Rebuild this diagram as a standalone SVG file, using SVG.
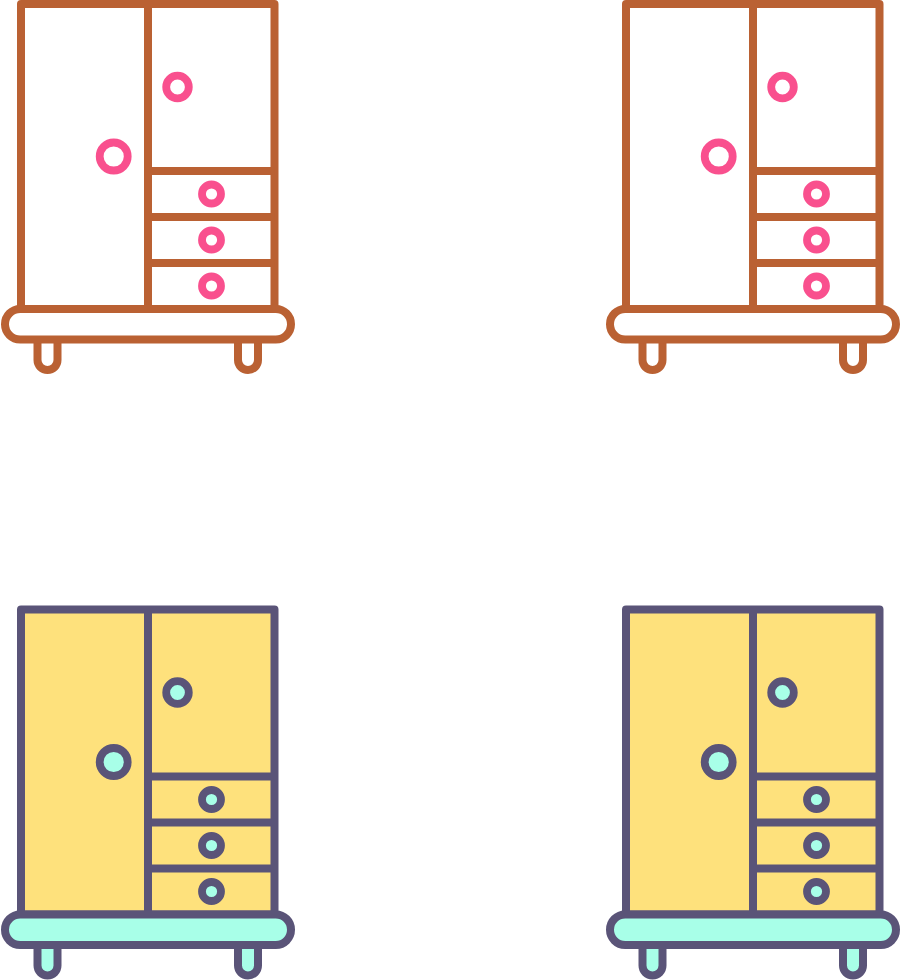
<svg xmlns="http://www.w3.org/2000/svg" xmlns:xlink="http://www.w3.org/1999/xlink" width="901" height="980" viewBox="0 0 901 980">
<style>
.s{stroke-width:8;stroke-linejoin:round;stroke:var(--line)}
.n{fill:none}
.body{fill:var(--body)}
.acc{fill:var(--acc)}
.k{stroke-width:7.8;stroke:var(--knob);fill:var(--acc)}
.a{--line:#BA6133;--knob:#F9508E;--body:#fff;--acc:#fff}
.b{--line:#5A5478;--knob:#5A5478;--body:#FEE17C;--acc:#A8FFE8}
</style>
<defs>
<g id="w">
<path class="s acc" d="M37.5 339v21a10 10 0 0 0 20 0v-21zM238 339v21a10 10 0 0 0 20 0v-21z"/>
<rect class="s body" x="21" y="4" width="253.500" height="305"/>
<path class="s n" d="M148 4V309M148 171H274.500M148 217H274.500M148 263H274.500"/>
<rect class="s acc" x="5" y="309" width="286" height="30.500" rx="15.200"/>
<circle class="k" cx="113.700" cy="156.500" r="14"/>
<circle class="k" cx="177.500" cy="87" r="11.300"/>
<circle class="k" cx="211.500" cy="194" r="9.500"/>
<circle class="k" cx="211.500" cy="240" r="9.500"/>
<circle class="k" cx="211.500" cy="286" r="9.500"/>
</g>
</defs>
<g id="wardrobe-outline-left" class="a"><use xlink:href="#w"/></g>
<g id="wardrobe-outline-right" class="a" transform="translate(605 0)"><use xlink:href="#w"/></g>
<g id="wardrobe-color-left" class="b" transform="translate(0 605.500)"><use xlink:href="#w"/></g>
<g id="wardrobe-color-right" class="b" transform="translate(605 605.500)"><use xlink:href="#w"/></g>
</svg>
